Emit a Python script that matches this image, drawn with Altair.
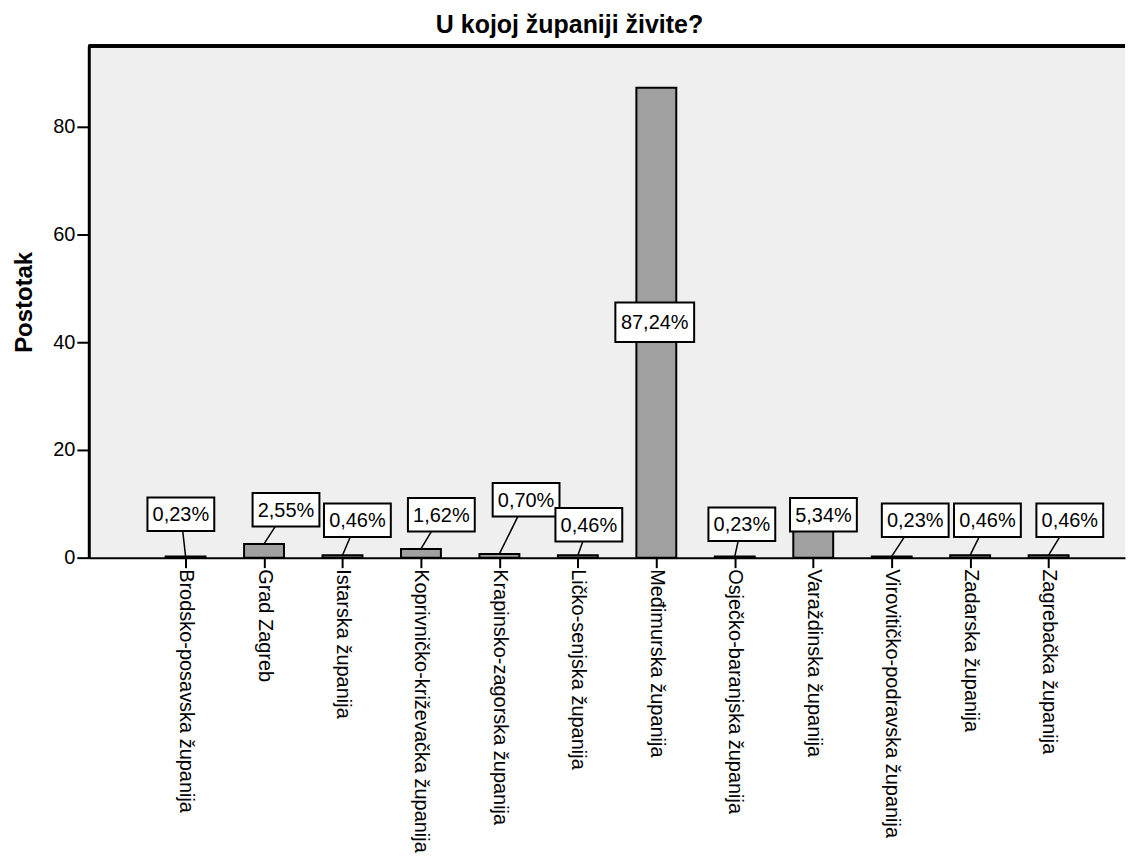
import json
import altair as alt
import pandas as pd

categories = [
    "Brodsko-posavska županija", "Grad Zagreb", "Istarska županija",
    "Koprivničko-križevačka županija", "Krapinsko-zagorska županija",
    "Ličko-senjska županija", "Međimurska županija", "Osječko-baranjska županija",
    "Varaždinska županija", "Virovitičko-podravska županija", "Zadarska županija",
    "Zagrebačka županija",
]
percent = [0.23, 2.55, 0.46, 1.62, 0.70, 0.46, 87.24, 0.23, 5.34, 0.23, 0.46, 0.46]
# label box centres (category index units, percent units)
label_x = [-0.06, 1.28, 2.19, 3.26, 4.34, 5.14, 5.98, 7.09, 8.13, 9.30, 10.22, 11.27]
label_y = [8.06, 8.89, 6.94, 7.96, 10.74, 6.11, 43.7, 6.2, 7.96, 6.94, 6.94, 6.94]
y_ticks = [0, 20, 40, 60, 80]

labels = [f"{v:.2f}".replace(".", ",") + "%" for v in percent]

df = pd.DataFrame({
    "idx": list(range(len(categories))),
    "cat": categories,
    "pct": percent,
    "lx": label_x,
    "ly": label_y,
    "txt": labels,
})

FONT = "Liberation Sans"
xscale = alt.Scale(domain=[-1.17, 11.91], nice=False, zero=False)
yscale = alt.Scale(domain=[0, 95], nice=False)
label_expr = json.dumps(categories, ensure_ascii=False) + "[datum.value]"

xaxis = alt.Axis(
    values=list(range(len(categories))), labelExpr=label_expr, labelAngle=90,
    labelFontSize=20, labelFont=FONT, labelColor="black", labelPadding=1,
    labelLimit=500, labelOverlap=False, labelBound=False, labelFlush=False,
    tickColor="black", tickWidth=2, tickSize=10,
    domainColor="black", domainWidth=2, grid=False, title=None,
)
yaxis = alt.Axis(
    values=y_ticks, title="Postotak", titleFont=FONT, titleFontSize=24,
    titleFontWeight="bold", titleColor="black", titlePadding=16,
    labelFont=FONT, labelFontSize=20, labelColor="black", labelPadding=2,
    tickColor="black", tickWidth=2, tickSize=12,
    domainColor="black", domainWidth=3, grid=False,
)

base = alt.Chart(df)

bars = base.mark_bar(size=40, fill="#a0a0a0", stroke="black", strokeWidth=2).encode(
    x=alt.X("idx:Q", scale=xscale, axis=xaxis),
    y=alt.Y("pct:Q", scale=yscale, axis=yaxis),
)

leaders = base.mark_rule(color="black", strokeWidth=1.5).encode(
    x=alt.X("idx:Q", scale=xscale, axis=xaxis),
    y=alt.Y("pct:Q", scale=yscale, axis=yaxis),
    x2="lx:Q",
    y2="ly:Q",
)

box_path = "M-1,-0.5H1V0.5H-1Z"
boxes = base.mark_point(
    shape=box_path, filled=True, fill="white", stroke="black",
    strokeWidth=2, opacity=1, fillOpacity=1,
).encode(
    x=alt.X("lx:Q", scale=xscale, axis=xaxis),
    y=alt.Y("ly:Q", scale=yscale, axis=yaxis),
    size=alt.condition(alt.datum.pct > 50, alt.value(6241), alt.value(4489)),
)

texts = base.mark_text(
    font=FONT, fontSize=20, color="black", align="center", baseline="middle", dy=1
).encode(
    x=alt.X("lx:Q", scale=xscale, axis=xaxis),
    y=alt.Y("ly:Q", scale=yscale, axis=yaxis),
    text="txt:N",
)

top_border = alt.Chart(df).mark_rule(color="black", strokeWidth=2.5).encode(
    y=alt.datum(95, scale=yscale, axis=yaxis),
)

chart = alt.layer(leaders, bars, boxes, texts, top_border).properties(
    width=1039,
    height=513,
    title=alt.TitleParams(
        text="U kojoj županiji živite?", font=FONT, fontSize=25,
        fontWeight="bold", color="black", anchor="middle", frame="bounds",
        offset=7,
    ),
    padding={"left": 4, "top": 3, "right": 0, "bottom": 0},
    background="white",
).configure_view(fill="#efefef", stroke=None)

chart.save("out.html", embed_options={"renderer": "svg", "actions": False})
